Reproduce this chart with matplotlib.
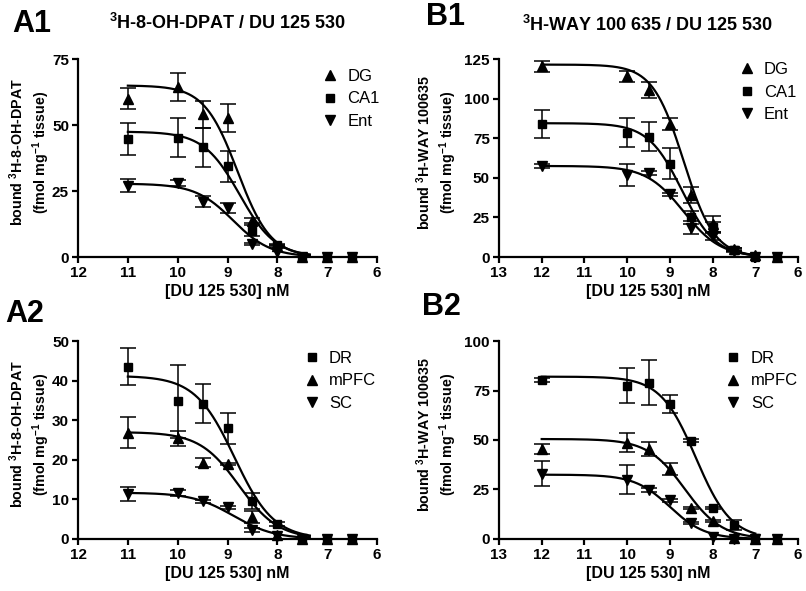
import numpy as np
import matplotlib
matplotlib.use("Agg")
import matplotlib.pyplot as plt
from matplotlib.lines import Line2D

plt.rcParams['font.family'] = ['Liberation Sans', 'DejaVu Sans']
plt.rcParams['font.weight'] = 'bold'
plt.rcParams['axes.labelweight'] = 'bold'
plt.rcParams['mathtext.fontset'] = 'custom'
plt.rcParams['mathtext.rm'] = 'Liberation Sans:bold'
plt.rcParams['mathtext.bf'] = 'Liberation Sans:bold'
plt.rcParams['mathtext.default'] = 'bf'

# --- data ---
x_a = [11, 10, 9.5, 9, 8.5, 8, 7.5, 7, 6.5]
x_b = [12, 10, 9.5, 9, 8.5, 8, 7.5, 7, 6.5]

# A1: 3H-8-OH-DPAT
a1_dg = [60, 64.5, 54, 52.5, 13.8, 4, 0, 0, 0]
a1_dg_err = [4, 5.3, 5, 5.3, 1, 0.5, 0, 0, 0]
a1_ca1 = [44.6, 45.2, 41.5, 34.3, 10, 4.6, 0, 0, 0]
a1_ca1_err = [6, 7.3, 7.5, 6, 2, 0.5, 0, 0, 0]
a1_ent = [27, 28, 21, 18.5, 5, 2, 0, 0, 0]
a1_ent_err = [2.5, 1, 2, 2, 0.5, 0, 0, 0, 0]

# B1: 3H-WAY 100635
b1_dg = [120.5, 114, 105.5, 84, 39, 21, 5, 1, 0]
b1_dg_err = [3.5, 3.5, 5, 4, 5, 5, 1, 0, 0]
b1_ca1 = [84, 78.5, 76, 59, 25, 19, 4.6, 0, 0]
b1_ca1_err = [9, 9, 9, 10, 4, 3, 1, 0, 0]
b1_ent = [57.5, 52, 53, 39.5, 18.5, 13, 3.8, 0, 0]
b1_ent_err = [1, 7, 1.5, 1, 4, 2, 0.5, 0, 0]

# A2
a2_dr = [43.5, 34.8, 34.2, 28, 9.6, 3.8, 0, 0, 0]
a2_dr_err = [4.7, 9.2, 4.9, 3.9, 2, 0.5, 0, 0, 0]
a2_mpfc = [26.8, 25.4, 19.3, 19, 5.5, 1.1, 0, 0, 0]
a2_mpfc_err = [3.9, 1.8, 1.2, 0.3, 1.5, 0, 0, 0, 0]
a2_sc = [11.4, 11.6, 9.5, 8, 2.3, 0.7, 0, 0, 0]
a2_sc_err = [1.8, 0.8, 0.3, 0.3, 0.5, 0, 0, 0, 0]

# B2
b2_dr = [80.5, 77.5, 79, 68, 49.7, 15.6, 6.9, 0.5, 0]
b2_dr_err = [1, 8.8, 11.3, 4.5, 0.8, 0.5, 2.5, 0, 0]
b2_mpfc = [45.5, 48.5, 45.5, 35.5, 15.6, 8.9, 0.5, 0, 0]
b2_mpfc_err = [2.7, 4.8, 3.5, 3, 0.5, 0.5, 0, 0, 0]
b2_sc = [33, 30, 24.8, 19.5, 8, 1, 0, 0, 0]
b2_sc_err = [6.2, 7.2, 1, 0.8, 0.5, 0, 0, 0, 0]

# fitted one-site curves: (top, pIC50, hill)
a1_fits = [(65, 8.8, 1.3), (47.5, 8.76, 1.2), (27.8, 8.89, 1.15)]
b1_fits = [(121.5, 8.68, 1.2), (84.5, 8.72, 1.1), (57.5, 8.68, 1.0)]
a2_fits = [(41.2, 8.86, 1.1), (27, 8.77, 1.1), (11.7, 8.88, 1.05)]
b2_fits = [(82, 8.39, 1.05), (50.5, 8.65, 1.0), (32.5, 9.0, 1.05)]

labels_1 = ['DG', 'CA1', 'Ent']
labels_2 = ['DR', 'mPFC', 'SC']
markers_1 = ['^', 's', 'v']
markers_2 = ['s', '^', 'v']

ylab_a = 'bound $^{3}$H-8-OH-DPAT\n(fmol mg$^{-1}$ tissue)'
ylab_b = 'bound $^{3}$H-WAY 100635\n(fmol mg$^{-1}$ tissue)'
xlab = '[DU 125 530] nM'


def sigmoid(x, top, p, h):
    return top / (1 + 10 ** (h * (p - x)))


def draw_panel(ax, xs, series, errs, fits, markers, labels, xlim, ymax, ystep,
               curve_end, ylabel, ylab_x, leg_x, leg_y):
    xs = np.array(xs, dtype=float)
    for ys, es, fit, m in zip(series, errs, fits, markers):
        ys = np.array(ys, dtype=float)
        es = np.array(es, dtype=float)
        xc = np.linspace(xs[0], curve_end, 300)
        ax.plot(xc, sigmoid(xc, *fit), color='black', lw=1.6, zorder=3)
        msk = es > 0
        ax.errorbar(xs[msk], ys[msk], yerr=es[msk], fmt='none', ecolor='black',
                    elinewidth=1.1, capsize=5.5, capthick=1.1, zorder=4, clip_on=False)
        ms = 6 if m == 's' else 7
        ax.plot(xs, ys, linestyle='none', marker=m, color='black', ms=ms,
                zorder=5, clip_on=False)

    ax.set_xlim(xlim)
    ax.set_ylim(0, ymax)
    xt = np.arange(xlim[1], xlim[0] + 1)
    yt = np.arange(0, ymax + 1, ystep)
    ax.set_xticks(xt, labels=[str(v) for v in xt], fontweight='bold', fontsize=11)
    ax.set_yticks(yt, labels=[str(v) for v in yt], fontweight='bold', fontsize=11)
    for s in ['top', 'right']:
        ax.spines[s].set_visible(False)
    for s in ['left', 'bottom']:
        ax.spines[s].set_linewidth(1.6)
    ax.tick_params(direction='out', length=4.5, width=1.6, pad=2.0)
    ax.set_xlabel(xlab, fontsize=11.5, fontweight='bold', labelpad=3)
    ax.set_ylabel(ylabel, fontsize=10.3, fontweight='bold', linespacing=1.28)
    ax.yaxis.set_label_coords(ylab_x, 0.53)

    handles = [Line2D([], [], linestyle='none', marker=m, color='black',
                      ms=6 if m == 's' else 7) for m in markers]
    ax.legend(handles, labels, loc='upper left', bbox_to_anchor=(leg_x, leg_y),
              frameon=False, handlelength=1.0, handletextpad=0.55,
              labelspacing=0.45, borderpad=0, borderaxespad=0,
              prop={'size': 12, 'weight': 'normal'})


fig = plt.figure(figsize=(8.06, 5.91), dpi=100)

ax_a1 = fig.add_axes([0.0968, 0.5651, 0.371, 0.335])
ax_b1 = fig.add_axes([0.6191, 0.5651, 0.371, 0.335])
ax_a2 = fig.add_axes([0.0968, 0.088, 0.371, 0.335])
ax_b2 = fig.add_axes([0.6191, 0.088, 0.371, 0.335])

draw_panel(ax_a1, x_a, [a1_dg, a1_ca1, a1_ent], [a1_dg_err, a1_ca1_err, a1_ent_err],
           a1_fits, markers_1, labels_1, (12, 6), 75, 25, 7.35, ylab_a, -0.088, 0.815, 0.95)
draw_panel(ax_b1, x_b, [b1_dg, b1_ca1, b1_ent], [b1_dg_err, b1_ca1_err, b1_ent_err],
           b1_fits, markers_1, labels_1, (13, 6), 125, 25, 7.0, ylab_b, -0.135, 0.80, 0.985)
draw_panel(ax_a2, x_a, [a2_dr, a2_mpfc, a2_sc], [a2_dr_err, a2_mpfc_err, a2_sc_err],
           a2_fits, markers_2, labels_2, (12, 6), 50, 10, 7.35, ylab_a, -0.088, 0.753, 0.95)
draw_panel(ax_b2, x_b, [b2_dr, b2_mpfc, b2_sc], [b2_dr_err, b2_mpfc_err, b2_sc_err],
           b2_fits, markers_2, labels_2, (13, 6), 100, 25, 7.0, ylab_b, -0.135, 0.756, 0.95)

# titles and panel letters
fig.text(228 / 806, 1 - 23 / 591, '$^{3}$H-8-OH-DPAT / DU 125 530', ha='center',
         va='center', fontsize=13, fontweight='bold')
fig.text(648 / 806, 1 - 25 / 591, '$^{3}$H-WAY 100 635 / DU 125 530', ha='center',
         va='center', fontsize=13, fontweight='bold')
fig.text(12 / 806, 1 - 24 / 591, 'A1', ha='left', va='center', fontsize=22, fontweight='bold')
fig.text(426 / 806, 1 - 17 / 591, 'B1', ha='left', va='center', fontsize=22, fontweight='bold')
fig.text(5 / 806, 1 - 314 / 591, 'A2', ha='left', va='center', fontsize=22, fontweight='bold')
fig.text(422 / 806, 1 - 307 / 591, 'B2', ha='left', va='center', fontsize=22, fontweight='bold')

plt.savefig('out.png', dpi=100)
plt.close(fig)
